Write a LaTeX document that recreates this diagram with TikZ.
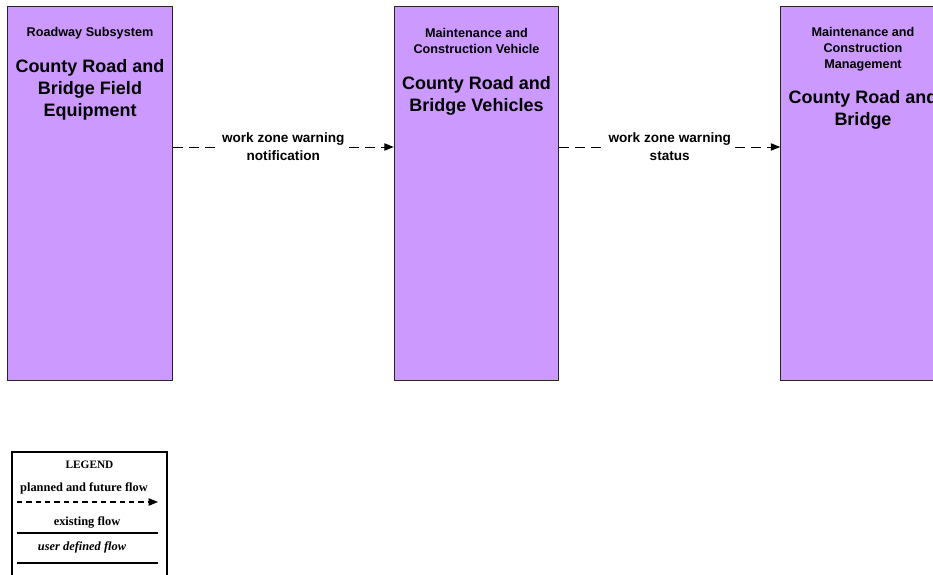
\documentclass[tikz,border=0pt]{standalone}
\usepackage{fontspec}
\setmainfont{Liberation Sans}
\newfontfamily\legendfont{Liberation Serif}
\usetikzlibrary{arrows.meta}
\definecolor{boxpurple}{HTML}{CC99FF}
\tikzset{x=0.75pt, y=-0.75pt,
    sysbox/.style={draw=black!85, fill=boxpurple, line width=0.7pt, inner sep=0pt,
        minimum width=123.5pt, minimum height=281pt},
    hdrtext/.style={font=\fontsize{9.5}{12}\selectfont\bfseries, align=center},
    ttltext/.style={font=\fontsize{13.5}{16.5}\selectfont\bfseries, align=center},
    planned/.style={draw=black, line width=0.7pt, dash pattern=on 7.5pt off 4.5pt,
        -{Triangle[length=7pt, width=5.5pt]}},
    flowlabel/.style={font=\fontsize{10.2}{13.5}\selectfont\bfseries, align=center,
        fill=white, inner sep=1pt},
    legtext/.style={font=\legendfont\fontsize{9.3}{10}\selectfont\bfseries}
}

\begin{document}
\begin{tikzpicture}
    \useasboundingbox (0,0) rectangle (933,575);
    % subsystem boxes
    \node[sysbox] (rse) at (90,193.5) {};
    \node[sysbox] (mcv) at (476.5,193.5) {};
    \node[sysbox] (mcm) at (863,193.5) {};
    \node[hdrtext] (rsehdr) at (90,33) {Roadway Subsystem};
    \node[ttltext] (rsettl) at (90,90) {County Road and\\Bridge Field\\Equipment};
    \node[hdrtext] (mcvhdr) at (476.5,41) {Maintenance and\\Construction Vehicle};
    \node[ttltext] (mcvttl) at (476.5,95.5) {County Road and\\Bridge Vehicles};
    \node[hdrtext] (mcmhdr) at (863,49.5) {Maintenance and\\Construction\\Management};
    \node[ttltext] (mcmttl) at (863,110) {County Road and\\Bridge};
    % flows
    \coordinate (flowrow) at (0,147);
    \draw[planned] (rse.east |- flowrow) -- (mcv.west |- flowrow)
        node[flowlabel, midway] (flowa) {work zone warning\\notification};
    \draw[planned] (mcv.east |- flowrow) -- (mcm.west |- flowrow)
        node[flowlabel, midway] (flowb) {work zone warning\\status};
    % legend
    \draw[line width=0.9pt] (12,452) rectangle (167,600);
    \node[legtext, font=\legendfont\fontsize{8.5}{10}\selectfont\bfseries] (legtitle) at (89.5,465) {LEGEND};
    \node[legtext] (legplanned) at (84,488) {planned and future flow};
    \coordinate (plannedA) at (17,502);
    \coordinate (plannedB) at (158,502);
    \draw[line width=0.8pt, dash pattern=on 4pt off 3pt,
        -{Triangle[length=7pt, width=5.5pt]}] (plannedA) -- (plannedB);
    \node[legtext] (legexisting) at (87,522) {existing flow};
    \coordinate (existingA) at (17,533);
    \coordinate (existingB) at (158,533);
    \draw[line width=1pt] (existingA) -- (existingB);
    \node[legtext, font=\legendfont\fontsize{9.3}{10}\selectfont\bfseries\itshape] (leguser) at (82,547) {user defined flow};
    \coordinate (userA) at (17,563);
    \coordinate (userB) at (158,563);
    \draw[line width=1pt] (userA) -- (userB);
\end{tikzpicture}
\end{document}
